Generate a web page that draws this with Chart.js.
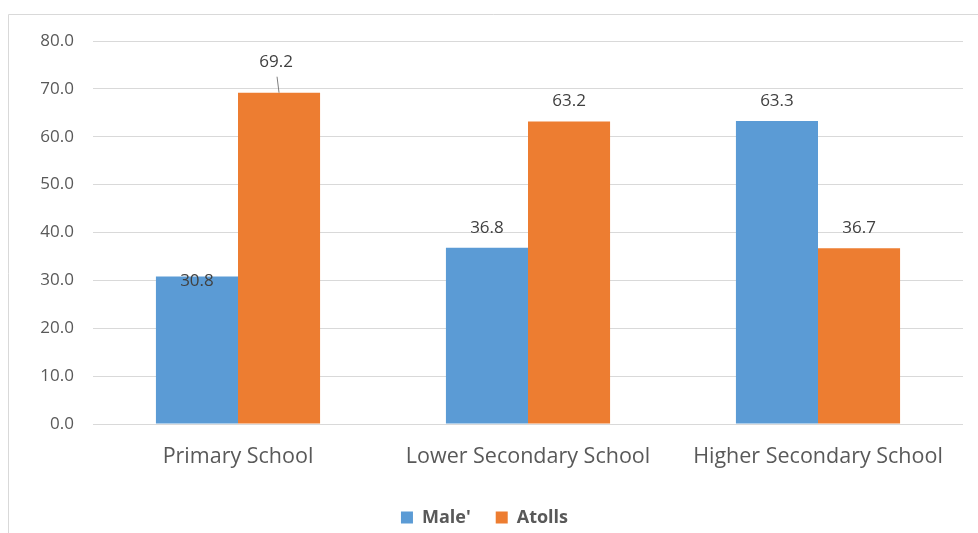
<!DOCTYPE html>
<html>
<head>
<meta charset="utf-8">
<script src="https://cdn.jsdelivr.net/npm/chart.js@4.4.1/dist/chart.umd.min.js"></script>
<style>
  html, body { margin: 0; padding: 0; background: #ffffff; }
  #wrap { width: 978px; height: 533px; position: relative; }
</style>
</head>
<body>
<div id="wrap"><canvas id="chart"></canvas></div>
<script>
// Share of students by school level, Male' vs Atolls (%)
const categories = ['Primary School', 'Lower Secondary School', 'Higher Secondary School'];
const maleValues = [30.8, 36.8, 63.3];
const atollValues = [69.2, 63.2, 36.7];
const seriesNames = ["Male'", 'Atolls'];
const yTicks = [0, 10, 20, 30, 40, 50, 60, 70, 80];

const FONT = "'Open Sans', 'DejaVu Sans', sans-serif";
const GRID = '#d9d9d9';

// Thin frame around the chart
const framePlugin = {
  id: 'frame',
  beforeDraw(chart) {
    const ctx = chart.ctx;
    ctx.save();
    ctx.strokeStyle = GRID;
    ctx.lineWidth = 1;
    ctx.beginPath();
    ctx.moveTo(8.5, chart.height);
    ctx.lineTo(8.5, 14.5);
    ctx.lineTo(chart.width, 14.5);
    ctx.stroke();
    ctx.restore();
  }
};

// Value labels above each bar, with a few hand-placed exceptions
const valueLabelPlugin = {
  id: 'valueLabels',
  afterDatasetsDraw(chart, args, opts) {
    const ctx = chart.ctx;
    ctx.save();
    ctx.font = opts.font;
    ctx.fillStyle = opts.color;
    ctx.textAlign = 'center';
    ctx.textBaseline = 'middle';
    chart.data.datasets.forEach((ds, di) => {
      const meta = chart.getDatasetMeta(di);
      meta.data.forEach((bar, i) => {
        const o = (opts.overrides || []).find(p => p.dataset === di && p.index === i) || {};
        const dy = o.dy !== undefined ? o.dy : opts.offset;
        const dx = o.dx || 0;
        const x = bar.x + dx;
        const y = bar.y + dy;
        if (o.leader) {
          ctx.save();
          ctx.strokeStyle = '#7f7f7f';
          ctx.lineWidth = 1;
          ctx.beginPath();
          ctx.moveTo(x + 1, y + 15);
          ctx.lineTo(bar.x, bar.y);
          ctx.stroke();
          ctx.restore();
        }
        ctx.fillText(ds.data[i].toFixed(1), x, y);
      });
    });
    ctx.restore();
  }
};

new Chart(document.getElementById('chart'), {
  type: 'bar',
  data: {
    labels: categories,
    datasets: [
      { label: seriesNames[0], data: maleValues, backgroundColor: '#5b9bd5' },
      { label: seriesNames[1], data: atollValues, backgroundColor: '#ed7d31' }
    ]
  },
  options: {
    responsive: true,
    maintainAspectRatio: false,
    animation: false,
    devicePixelRatio: 1,
    categoryPercentage: 0.566,
    barPercentage: 1,
    layout: { padding: { top: 41, left: 6, right: 15, bottom: -3.5 } },
    scales: {
      x: {
        grid: { display: false, drawTicks: false },
        border: { display: false },
        ticks: { color: '#595959', font: { family: FONT, size: 21.5 }, padding: 20 },
        afterFit(scale) { scale.height = 59.5; }
      },
      y: {
        min: 0,
        max: 80,
        afterBuildTicks(scale) { scale.ticks = yTicks.map(v => ({ value: v })); },
        grid: { color: GRID, lineWidth: 1, drawTicks: false },
        border: { display: false },
        ticks: {
          color: '#595959',
          font: { family: FONT, size: 17 },
          padding: 19,
          callback: v => Number(v).toFixed(1)
        },
        afterFit(scale) { scale.width = 87; }
      }
    },
    plugins: {
      legend: {
        position: 'bottom',
        labels: {
          boxWidth: 12,
          boxHeight: 12,
          padding: 25,
          color: '#595959',
          font: { family: FONT, size: 18, weight: 'bold' }
        }
      },
      tooltip: { enabled: false },
      valueLabels: {
        font: "17px " + FONT,
        color: '#404040',
        offset: -20,
        overrides: [
          { dataset: 0, index: 0, dy: 5 },
          { dataset: 1, index: 0, dy: -31, dx: -3, leader: true }
        ]
      }
    }
  },
  plugins: [framePlugin, valueLabelPlugin]
});
</script>
</body>
</html>
